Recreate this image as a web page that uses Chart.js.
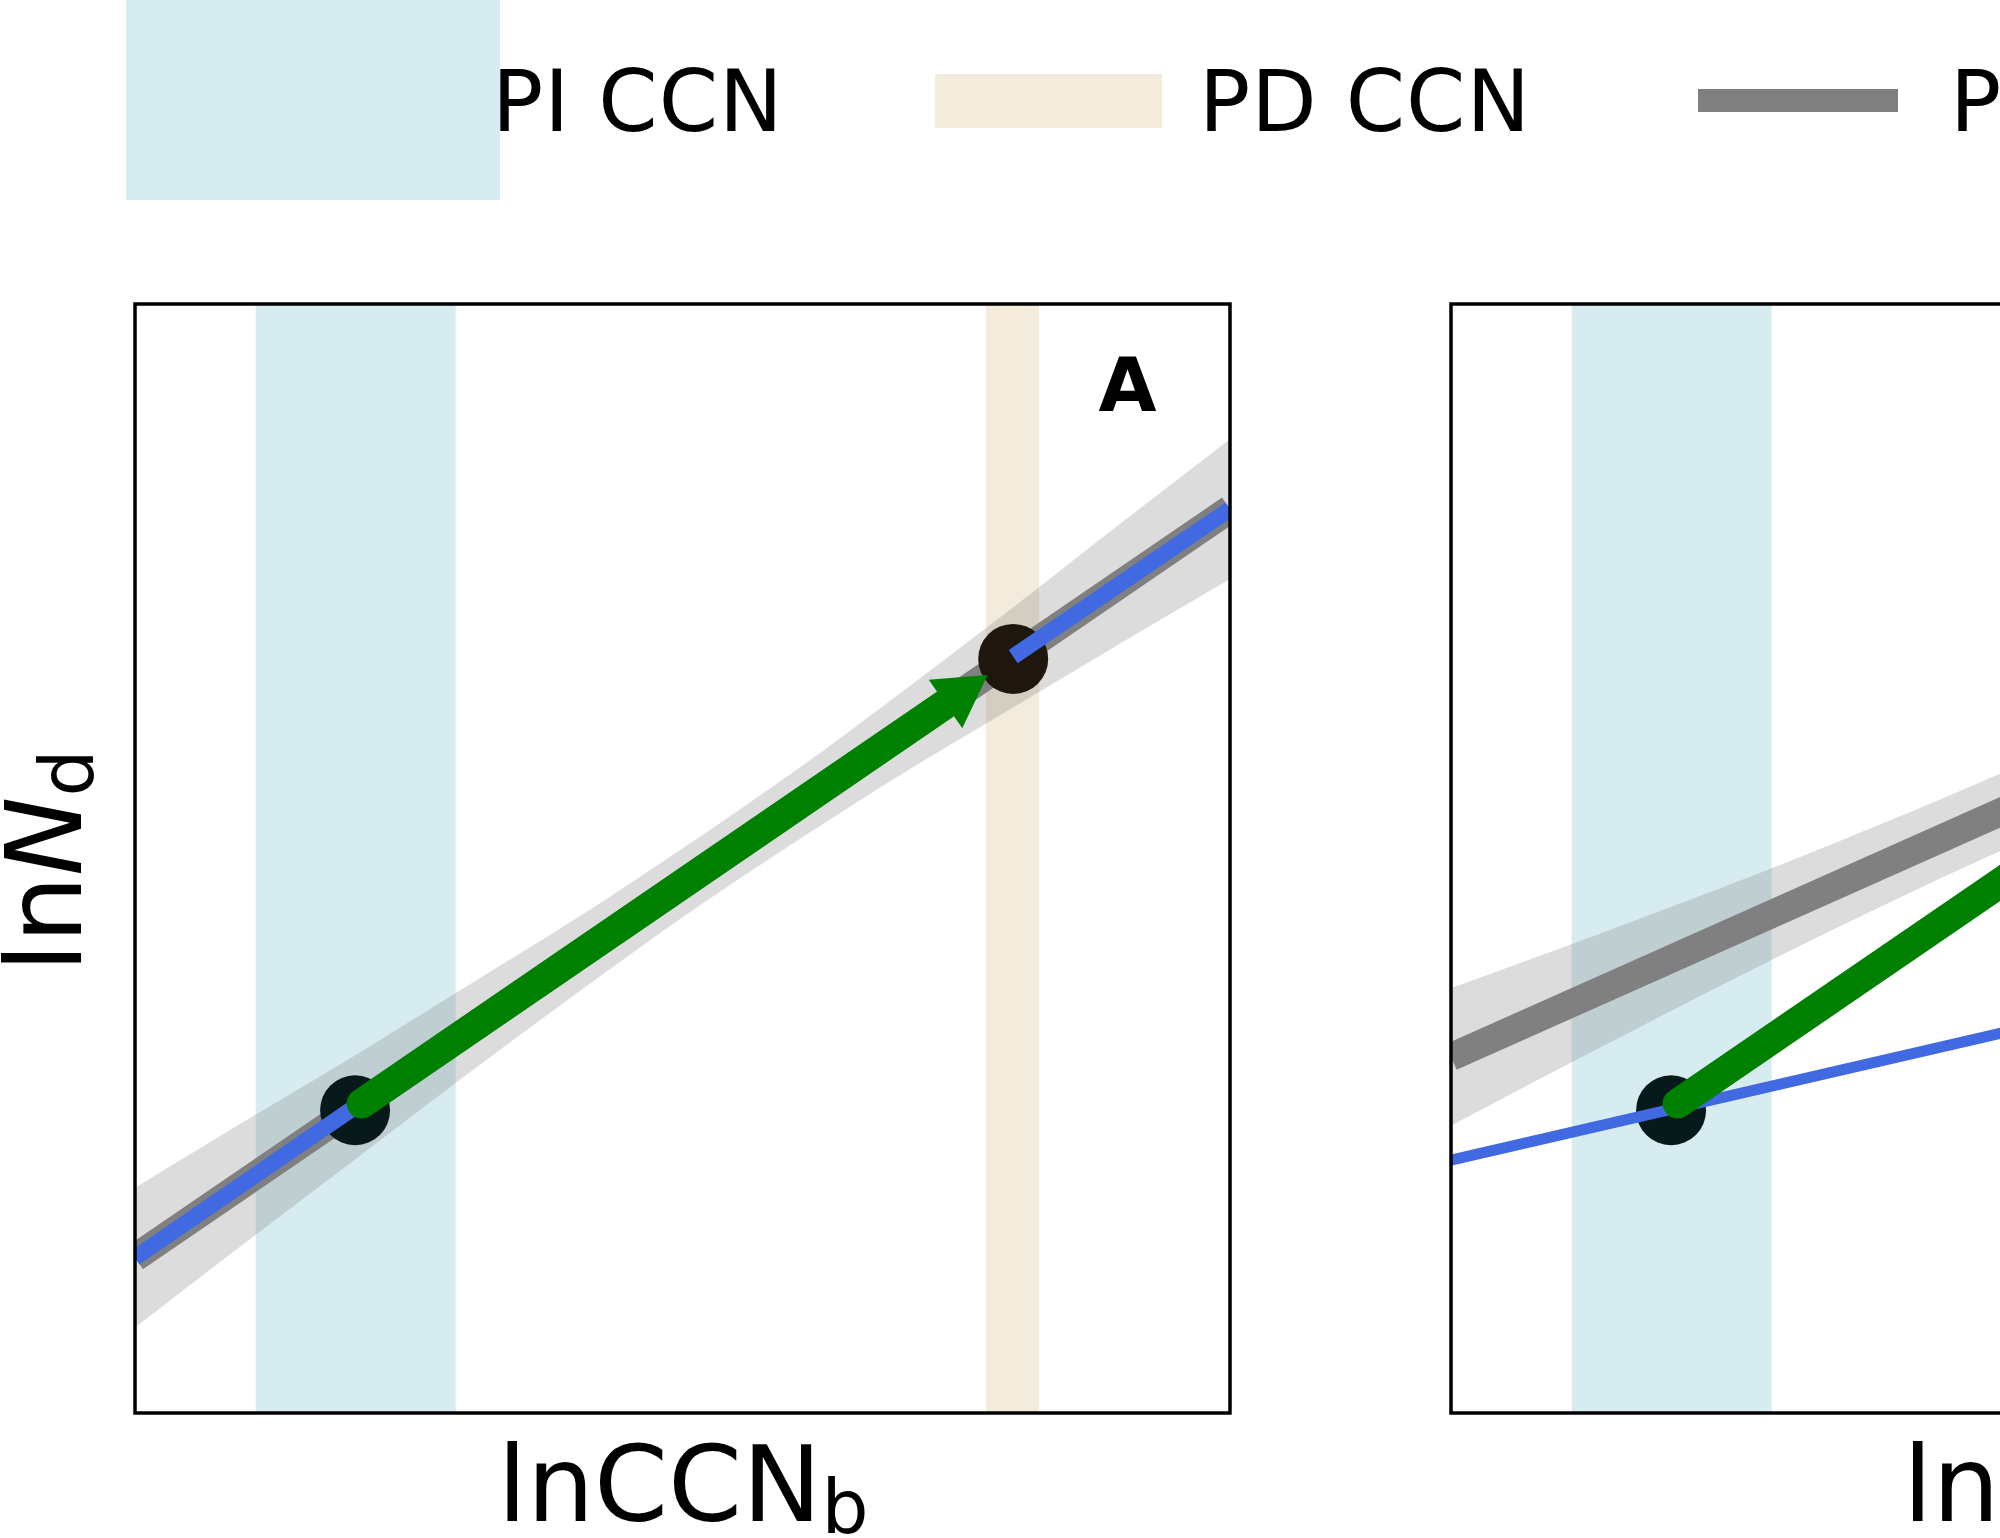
<!DOCTYPE html>
<html>
<head>
<meta charset="utf-8">
<script src="https://cdn.jsdelivr.net/npm/chart.js@4.4.1/dist/chart.umd.min.js"></script>
<style>
  html, body { margin: 0; padding: 0; background: #fff; }
  body { width: 2000px; height: 1538px; position: relative; overflow: hidden;
         font-family: "DejaVu Sans", sans-serif; color: #000; }
  .abs { position: absolute; white-space: nowrap; line-height: 1; }
  .legend { font-size: 85px; letter-spacing: 1px; }
  .axlab { font-size: 106px; }
  .sub { font-size: 0.7em; position: relative; top: 0.16em; }
  canvas { position: absolute; }
</style>
</head>
<body>
<!-- legend -->
<div class="abs" style="left:126px;top:0;width:374px;height:200px;background:#d7ecf0"></div>
<div class="abs legend" style="left:492px;top:59px">PI CCN</div>
<div class="abs" style="left:935px;top:74px;width:227px;height:54px;background:#f3ebdc"></div>
<div class="abs legend" style="left:1199px;top:59px">PD CCN</div>
<div class="abs" style="left:1698px;top:89px;width:200px;height:23px;background:#808080"></div>
<div class="abs legend" style="left:1950px;top:59px">PD fit</div>

<canvas id="panelA" width="1115" height="1129" style="left:125px;top:294px"></canvas>
<canvas id="panelB" width="1115" height="1129" style="left:1441px;top:294px"></canvas>

<div class="abs" style="left:1128px;top:348px;transform:translateX(-50%);font-size:75px;font-weight:bold;letter-spacing:1px">A</div>
<div class="abs axlab" style="left:45px;top:861px;transform:translate(-50%,-50%) rotate(-90deg)">ln<i>N</i><span class="sub">d</span></div>
<div class="abs axlab" style="left:683px;top:1432px;transform:translateX(-50%)">lnCCN<span class="sub">b</span></div>
<div class="abs axlab" style="left:1903px;top:1432px">lnCCN<span class="sub">b</span></div>

<script>
// both panels share the same (unitless) axes
const xRange = [0, 10];
const yRange = [0, 10];
const bandX = [0, 1, 2, 3, 4, 5, 6, 7, 8, 9, 10];

// shaded CCN ranges (lnCCN_b)
const piBand = [1.10, 2.93];
const pdBand = [7.77, 8.26];

// panel A: fit line, its confidence band, local line, states, arrow
const aFitX = [0, 10];
const aFitY = [1.40, 8.15];
const aUpper = [2.03, 2.63, 3.22, 3.83, 4.44, 5.09, 5.77, 6.50, 7.25, 8.02, 8.78];
const aLower = [0.77, 1.53, 2.28, 3.03, 3.76, 4.47, 5.13, 5.76, 6.35, 6.94, 7.52];
const aLocalX = [0, 2.01, 5, 8.02, 10];
const aLocalY = [1.40, 2.76, null, 6.82, 8.15];
const aDotX = [2.01, 8.02];
const aDotY = [2.73, 6.80];
const aArrowX = [2.07, 7.53];
const aArrowY = [2.79, 6.48];

// panel B
const bFitX = [0, 10];
const bFitY = [3.21, 7.61];
const bUpper = [3.83, 4.19, 4.56, 4.94, 5.34, 5.76, 6.22, 6.70, 7.20, 7.71, 8.23];
const bLower = [2.59, 3.11, 3.62, 4.12, 4.60, 5.06, 5.48, 5.88, 6.26, 6.63, 6.99];
const bLocalX = [0, 10];
const bLocalY = [2.28, 4.56];
const bDotX = [2.01, 8.02];
const bDotY = [2.73, 6.80];
const bArrowX = [2.07, 7.53];
const bArrowY = [2.79, 6.48];

const dotColors = ["#08191b", "#1f170d"];

const pts = (xs, ys) => xs.map((x, i) => ({ x, y: ys[i] }));

// black frame round the plot area
const framePlugin = {
  id: "frame",
  afterDraw(chart) {
    const { ctx, chartArea: a } = chart;
    ctx.save();
    ctx.strokeStyle = "#000";
    ctx.lineWidth = 3.5;
    ctx.strokeRect(a.left, a.top, a.right - a.left, a.bottom - a.top);
    ctx.restore();
  },
};

function buildPanel(id, p) {
  const base = { pointRadius: 0, clip: 0, tension: 0 };
  const datasets = [
    { ...base, data: pts(piBand, [yRange[1], yRange[1]]), borderWidth: 0,
      backgroundColor: "#d7ecf0", fill: "start", order: 9 },
    { ...base, data: pts(pdBand, [yRange[1], yRange[1]]), borderWidth: 0,
      backgroundColor: "#f3ebdc", fill: "start", order: 8 },
    { ...base, data: pts(bandX, p.lower), borderWidth: 0, fill: false,
      cubicInterpolationMode: "monotone", order: 7 },
    { ...base, data: pts(bandX, p.upper), borderWidth: 0, cubicInterpolationMode: "monotone",
      backgroundColor: "rgba(128,128,128,0.28)", fill: 2, order: 6 },
    { ...base, data: pts(p.fitX, p.fitY), borderColor: "#808080", borderWidth: 28,
      borderCapStyle: "butt", fill: false, order: 5 },
    { ...base, data: pts(p.dotX, p.dotY), showLine: false, pointRadius: 35,
      pointBackgroundColor: dotColors, pointBorderWidth: 0, order: 4 },
    { ...base, data: pts(p.localX, p.localY), borderColor: "#4169e1",
      borderWidth: p.localWidth, spanGaps: false, fill: false, order: 3 },
    { ...base, data: pts(p.arrowX, p.arrowY), borderColor: "#008000", borderWidth: 30,
      borderCapStyle: "round", fill: false, pointRadius: [0, 29], pointStyle: "triangle",
      pointRotation: 55.4, pointBackgroundColor: "#008000", pointBorderColor: "#008000",
      pointBorderWidth: 5, order: 1 },
  ];

  new Chart(document.getElementById(id), {
    type: "line",
    data: { datasets },
    options: {
      responsive: false,
      animation: false,
      devicePixelRatio: 1,
      layout: { padding: 10, autoPadding: false },
      events: [],
      plugins: { legend: { display: false }, tooltip: { enabled: false } },
      scales: {
        x: { type: "linear", min: xRange[0], max: xRange[1], display: false },
        y: { type: "linear", min: yRange[0], max: yRange[1], display: false },
      },
    },
    plugins: [framePlugin],
  });
}

buildPanel("panelA", {
  fitX: aFitX, fitY: aFitY, upper: aUpper, lower: aLower,
  localX: aLocalX, localY: aLocalY, localWidth: 16,
  dotX: aDotX, dotY: aDotY, arrowX: aArrowX, arrowY: aArrowY,
});
buildPanel("panelB", {
  fitX: bFitX, fitY: bFitY, upper: bUpper, lower: bLower,
  localX: bLocalX, localY: bLocalY, localWidth: 11,
  dotX: bDotX, dotY: bDotY, arrowX: bArrowX, arrowY: bArrowY,
});
</script>
</body>
</html>
